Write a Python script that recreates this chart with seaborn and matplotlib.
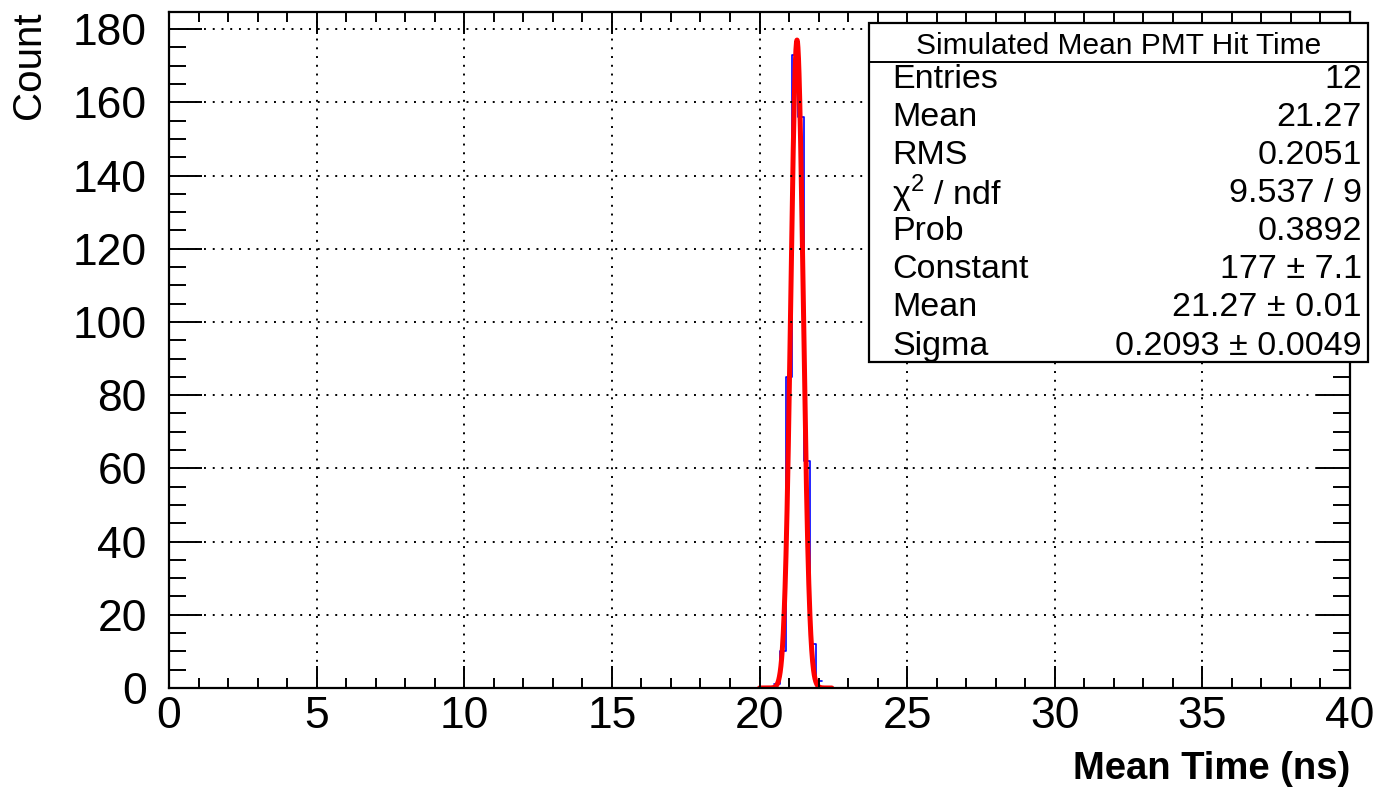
import numpy as np
import pandas as pd
import matplotlib
matplotlib.use("Agg")
import matplotlib.pyplot as plt
import seaborn as sns
from matplotlib.ticker import MultipleLocator
from matplotlib.patches import Rectangle

sns.set_style("white")
plt.rcParams["font.family"] = ["Liberation Sans", "DejaVu Sans"]
plt.rcParams["mathtext.fontset"] = "custom"
plt.rcParams["mathtext.rm"] = "Liberation Sans"
plt.rcParams["text.color"] = "black"
plt.rcParams["axes.labelcolor"] = "black"
plt.rcParams["xtick.color"] = "black"
plt.rcParams["ytick.color"] = "black"

# histogram of mean hit time (bin edges in ns, counts per bin)
bin_edges = [20.5, 20.7, 20.9, 21.1, 21.3, 21.5, 21.7, 21.9, 22.1]
bin_counts = [1, 10, 85, 173, 156, 62, 12, 2]

# gaussian fit parameters from the stats box
fit_const = 177.0
fit_mean = 21.27
fit_sigma = 0.2093
fit_range = (20.0, 22.45)

stat_labels = ["Entries", "Mean", "RMS", "χ$^{2}$ / ndf", "Prob",
               "Constant", "Mean", "Sigma"]
stat_values = ["12", "21.27", "0.2051", "9.537 / 9", "0.3892",
               "177 ± 7.1", "21.27 ± 0.01", "0.2093 ± 0.0049"]
box_title = "Simulated Mean PMT Hit Time"

hist_df = pd.DataFrame({
    "t": [(a + b) / 2 for a, b in zip(bin_edges[:-1], bin_edges[1:])],
    "n": bin_counts,
})
xf = np.linspace(fit_range[0], fit_range[1], 400)
fit_df = pd.DataFrame({"t": xf,
                       "y": fit_const * np.exp(-0.5 * ((xf - fit_mean) / fit_sigma) ** 2)})

fig = plt.figure(figsize=(13.82, 7.91), dpi=100)
ax = fig.add_axes([169 / 1382, 103 / 791, 1181 / 1382, 676.5 / 791])

sns.histplot(data=hist_df, x="t", weights="n", bins=bin_edges, element="step",
             fill=False, color="blue", linewidth=1.2, ax=ax)
sns.lineplot(data=fit_df, x="t", y="y", color="#ff0000", linewidth=3.6, ax=ax)

ax.set_xlim(0, 40)
ax.set_ylim(0, 184.8)
ax.xaxis.set_major_locator(MultipleLocator(5))
ax.xaxis.set_minor_locator(MultipleLocator(1))
ax.yaxis.set_major_locator(MultipleLocator(20))
ax.yaxis.set_minor_locator(MultipleLocator(5))
ax.grid(True, which="major", color="black", linestyle=(0, (1, 3.5)), linewidth=1.4)
ax.set_axisbelow(False)

ax.tick_params(which="both", direction="in", top=True, right=True,
               bottom=True, left=True, color="black", width=1.4, labelsize=32)
ax.tick_params(axis="x", which="major", length=16, pad=6)
ax.tick_params(axis="x", which="minor", length=7)
ax.tick_params(axis="y", which="major", length=24, pad=16)
ax.tick_params(axis="y", which="minor", length=12)
for s in ax.spines.values():
    s.set_color("black")
    s.set_linewidth(1.6)

ax.set_xlabel("Mean Time (ns)", fontsize=27.5, fontweight="bold", loc="right", labelpad=10)
ax.set_ylabel("Count", fontsize=29, loc="top", labelpad=18)

# stats box
W, H = 1382, 791
x0, x1 = 869 / W, 1368 / W
ytop, ybot, ysep = 1 - 23 / H, 1 - 362 / H, 1 - 62 / H
fig.patches.append(Rectangle((x0, ybot), x1 - x0, ytop - ybot, transform=fig.transFigure,
                             facecolor="white", edgecolor="black", linewidth=1.6, zorder=5))
fig.lines.append(plt.Line2D([x0, x1], [ysep, ysep], transform=fig.transFigure,
                            color="black", linewidth=1.4, zorder=6))
fig.text((x0 + x1) / 2, 1 - 46 / H, box_title, ha="center", va="center",
         fontsize=21.5, zorder=7)
for i, (lab, val) in enumerate(zip(stat_labels, stat_values)):
    yy = 1 - (80 + 38 * i) / H
    fig.text(892 / W, yy, lab, ha="left", va="center", fontsize=24.5, zorder=7)
    fig.text(1362 / W, yy, val, ha="right", va="center", fontsize=24.5, zorder=7)

fig.savefig("out.png", dpi=100)
